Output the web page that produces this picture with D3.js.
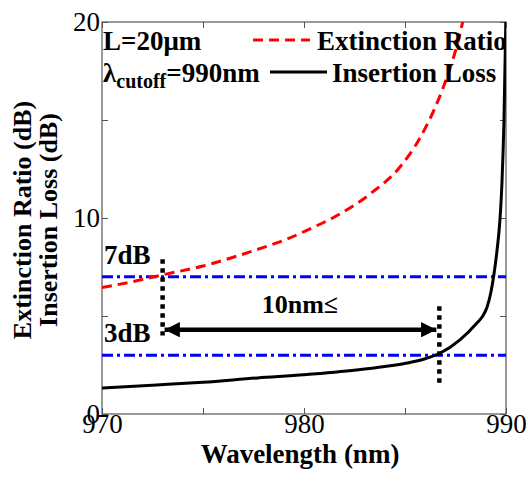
<!DOCTYPE html>
<html>
<head>
<meta charset="utf-8">
<script src="https://cdn.jsdelivr.net/npm/d3@7"></script>
<style>
  body { margin: 0; background: #fff; }
  svg text { font-family: "Liberation Serif", "Times New Roman", serif; }
</style>
</head>
<body>
<div id="chart"></div>
<script>
// extinction ratio (red dashed)
const erWavelength = [970, 971.5, 973, 975, 976.5, 978, 979.1, 980.3, 981.5, 983.3, 984.75, 985.75, 986.6, 987.15, 987.6, 987.9];
const erValues = [6.45, 6.75, 7.1, 7.55, 8.0, 8.5, 8.9, 9.45, 10.05, 11.25, 12.6, 14.1, 15.9, 17.4, 18.9, 20.2];

// insertion loss (black solid)
const ilWavelength = [970, 972.7, 975, 977.7, 980, 982.6, 984, 985.1, 986, 986.73, 987.72, 988.56, 988.85, 989.06, 989.25, 989.4, 989.55, 989.7, 989.8, 989.9, 990];
const ilValues = [1.33, 1.48, 1.62, 1.84, 2.0, 2.24, 2.42, 2.6, 2.82, 3.1, 3.78, 4.64, 5.0, 5.45, 6.2, 7.1, 8.3, 9.9, 11.8, 15, 20.5];

const xTicks = [970, 975, 980, 985, 990];
const xTickLabels = ['970', '', '980', '', '990'];
const yTicks = [0, 5, 10, 15, 20];
const yTickLabels = ['0', '', '10', '', '20'];

// threshold levels (dB) and the markers between them
const levels = [7, 3];
const levelLabels = ['7dB', '3dB'];
const markerWl = [973, 986.7];
const markerRange = [[7.9, 4.0], [5.5, 1.6]];
const arrowY = 4.3;

const svgWidth = 528, svgHeight = 482;
const margin = {top: 22, left: 102, right: 22, bottom: 68};
const width = svgWidth - margin.left - margin.right;
const height = svgHeight - margin.top - margin.bottom;

const svg = d3.select('#chart').append('svg')
    .attr('width', svgWidth)
    .attr('height', svgHeight);

const defs = svg.append('defs');
defs.append('clipPath').attr('id', 'clip')
    .append('rect').attr('width', width).attr('height', height);
defs.append('marker').attr('id', 'head')
    .attr('viewBox', '0 0 10 10')
    .attr('refX', 10).attr('refY', 5)
    .attr('markerWidth', 3.6).attr('markerHeight', 3.4)
    .attr('markerUnits', 'strokeWidth')
    .attr('orient', 'auto-start-reverse')
    .append('path').attr('d', 'M0,0L10,5L0,10Z').attr('fill', '#000');

const g = svg.append('g')
    .attr('transform', `translate(${margin.left}, ${margin.top})`);

const x = d3.scaleLinear().domain([970, 990]).range([0, width]);
const y = d3.scaleLinear().domain([0, 20]).range([height, 0]);

//axes, ticks inward on all sides
const axisColor = '#555';
const styleAxis = sel => {
    sel.select('.domain').remove();
    sel.selectAll('.tick line').attr('stroke', axisColor);
    sel.selectAll('.tick text')
        .style('font-size', '27px')
        .attr('fill', '#000');
};

g.append('g').attr('transform', `translate(0, ${height})`)
    .call(d3.axisBottom(x).tickValues(xTicks).tickSizeInner(-6).tickSizeOuter(0)
        .tickPadding(0).tickFormat((d, i) => xTickLabels[i]))
    .call(styleAxis);
g.append('g')
    .call(d3.axisTop(x).tickValues(xTicks).tickSizeInner(-6).tickFormat(''))
    .call(styleAxis);
g.append('g')
    .call(d3.axisLeft(y).tickValues(yTicks).tickSizeInner(-6).tickSizeOuter(0)
        .tickPadding(2).tickFormat((d, i) => yTickLabels[i]))
    .call(styleAxis);
g.append('g').attr('transform', `translate(${width}, 0)`)
    .call(d3.axisRight(y).tickValues(yTicks).tickSizeInner(-6).tickFormat(''))
    .call(styleAxis);

g.append('rect')
    .attr('width', width).attr('height', height)
    .attr('fill', 'none').attr('stroke', axisColor).attr('stroke-width', 1.2);

const plot = g.append('g').attr('clip-path', 'url(#clip)');

//threshold lines
plot.selectAll('.level')
    .data(levels).enter()
    .append('line').attr('class', 'level')
    .attr('x1', 0).attr('x2', width)
    .attr('y1', d => y(d)).attr('y2', d => y(d))
    .attr('stroke', '#0000ff')
    .attr('stroke-width', 3)
    .attr('stroke-dasharray', '11,4,3,4');

const line = d3.line().curve(d3.curveMonotoneX)
    .x(d => x(d[0])).y(d => y(d[1]));

plot.append('path')
    .datum(d3.zip(erWavelength, erValues))
    .attr('d', line)
    .attr('fill', 'none')
    .attr('stroke', '#ff0000')
    .attr('stroke-width', 3)
    .attr('stroke-dasharray', '10,6');

plot.append('path')
    .datum(d3.zip(ilWavelength, ilValues))
    .attr('d', line)
    .attr('fill', 'none')
    .attr('stroke', '#000')
    .attr('stroke-width', 3);

//dotted markers
plot.selectAll('.marker')
    .data(markerWl).enter()
    .append('line').attr('class', 'marker')
    .attr('x1', d => x(d)).attr('x2', d => x(d))
    .attr('y1', (d, i) => y(markerRange[i][0]))
    .attr('y2', (d, i) => y(markerRange[i][1]))
    .attr('stroke', '#000')
    .attr('stroke-width', 4.5)
    .attr('stroke-dasharray', '4.5,4.5');

//double arrow
plot.append('line')
    .attr('x1', x(markerWl[0]) + 2).attr('x2', x(markerWl[1]) - 3)
    .attr('y1', y(arrowY)).attr('y2', y(arrowY))
    .attr('stroke', '#000')
    .attr('stroke-width', 4.5)
    .attr('marker-start', 'url(#head)')
    .attr('marker-end', 'url(#head)');

const boldText = (sel, size) => sel
    .style('font-size', size + 'px')
    .style('font-weight', 'bold')
    .attr('fill', '#000');

plot.selectAll('.level-label')
    .data(levelLabels).enter()
    .append('text').attr('class', 'level-label')
    .attr('x', 2)
    .attr('y', (d, i) => y(levels[i]) - 13)
    .text(d => d)
    .call(boldText, 27);

plot.append('text')
    .attr('x', x(979.8)).attr('y', y(arrowY) - 17)
    .attr('text-anchor', 'middle')
    .text('10nm≤')
    .call(boldText, 26);

//legend
const legend = plot.append('g');
legend.append('text').attr('x', 1).attr('y', 28)
    .text('L=20μm').call(boldText, 27);
const lambda = legend.append('text').attr('x', 1).attr('y', 60).call(boldText, 27);
lambda.append('tspan').text('λ');
lambda.append('tspan').attr('dy', 6).style('font-size', '20px').text('cutoff');
lambda.append('tspan').attr('dy', -6).text('=990nm');

legend.append('line')
    .attr('x1', 151).attr('x2', 208).attr('y1', 18).attr('y2', 18)
    .attr('stroke', '#ff0000').attr('stroke-width', 3)
    .attr('stroke-dasharray', '10,6');
legend.append('text').attr('x', 215).attr('y', 28)
    .text('Extinction Ratio').call(boldText, 27);
legend.append('line')
    .attr('x1', 168).attr('x2', 225).attr('y1', 50).attr('y2', 50)
    .attr('stroke', '#000').attr('stroke-width', 3);
legend.append('text').attr('x', 230).attr('y', 60)
    .text('Insertion Loss').call(boldText, 27);

//axis titles
svg.append('text')
    .attr('x', 300).attr('y', 463)
    .attr('text-anchor', 'middle')
    .text('Wavelength (nm)')
    .call(boldText, 27);

const yTitle = svg.append('text')
    .attr('transform', `translate(31, ${margin.top + height / 2 + 2}) rotate(-90)`)
    .attr('text-anchor', 'middle')
    .call(boldText, 26);
yTitle.append('tspan').attr('x', 0).attr('dy', 0).text('Extinction Ratio (dB)');
yTitle.append('tspan').attr('x', 0).attr('dy', 26).text('Insertion Loss (dB)');
</script>
</body>
</html>
